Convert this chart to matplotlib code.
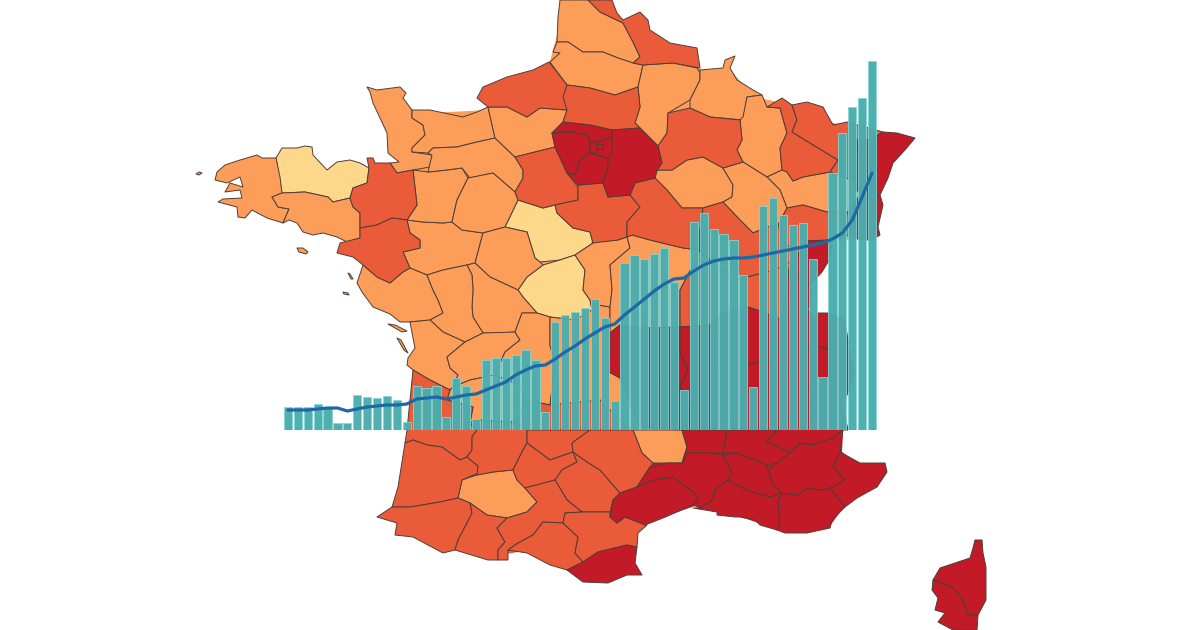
import matplotlib
matplotlib.use('Agg')
import matplotlib.pyplot as plt
from matplotlib.patches import Polygon

# couleurs de la carte
c_light = '#fed88a'
c_orange = '#fc9e5a'
c_redor = '#ea5c39'
c_dark = '#c21b27'
c_edge = '#4f3d36'

# fonds sous les departements, pour boucher les petits trous entre contours
fond_orange = [(430,113),(488,110),(490,100),(549,65),(565,5),(605,10),(625,25),(650,35),(690,55),(705,75),(730,70),(755,97),(782,103),(847,128),(865,140),(860,240),(805,241),(790,320),(682,330),(680,430),(408,430),(414,370),(410,362),(417,348),(412,324),(365,292),(362,238),(362,228),(369,183),(397,175),(414,150)]
fond_redor = [(410,445),(590,432),(633,432),(650,467),(612,515),(636,532),(630,545),(575,555),(530,550),(500,555),(458,548),(385,517),(395,510)]
fond_dark = [(612,516),(650,467),(682,430),(682,330),(780,320),(808,310),(846,345),(843,405),(843,432),(842,452),(860,465),(884,465),(885,472),(875,485),(845,505),(830,526),(785,532),(735,515),(695,506),(648,522)]

# contours des departements (pixels)
dep_light = [
    [(276,158),(282,148),(297,148),(305,146),(312,147),(313,155),(327,170),(337,162),(350,160),(360,163),(369,168),(367,183),(353,188),(350,198),(333,202),(328,197),(305,192),(282,193)],
    [(505,227),(518,200),(543,208),(555,205),(557,213),(573,228),(590,232),(593,243),(575,255),(560,260),(540,262),(535,258),(527,232)],
    [(527,277),(543,265),(560,260),(575,255),(585,270),(583,290),(590,300),(592,310),(575,320),(550,317),(537,313),(523,297),(518,290)],
]

dep_orange = [
    [(215,180),(217,172),(225,165),(240,160),(257,155),(262,158),(276,158),(280,177),(282,193),(272,197),(278,207),(289,209),(283,223),(267,218),(252,210),(245,218),(238,217),(237,207),(218,202),(223,199),(242,198),(240,190),(225,192),(230,183),(243,187),(240,177),(227,183)],
    [(272,197),(282,193),(305,192),(328,197),(333,202),(350,198),(353,207),(360,213),(360,228),(360,238),(347,242),(337,237),(323,233),(313,235),(303,232),(297,223),(289,220),(283,223),(289,209),(278,207)],
    [(403,252),(420,248),(420,240),(410,233),(407,220),(423,222),(443,223),(452,222),(462,230),(483,233),(475,263),(467,265),(443,270),(427,275),(410,268)],
    [(357,283),(363,265),(377,277),(390,283),(403,272),(410,268),(427,275),(433,290),(438,300),(443,313),(430,320),(410,322),(400,322),(390,314),(373,307),(362,292)],
    [(413,170),(428,172),(447,170),(462,168),(468,178),(457,200),(452,222),(443,223),(423,222),(407,220),(417,205)],
    [(367,87),(377,90),(400,87),(406,93),(403,98),(412,110),(412,118),(423,125),(425,135),(412,148),(412,152),(432,155),(430,167),(413,170),(397,173),(390,163),(399,162),(388,153),(387,133),(373,103),(370,92)],
    [(412,110),(430,110),(463,117),(477,112),(488,107),(495,138),(477,142),(457,147),(433,148),(428,153),(412,152),(412,148),(425,135),(423,125),(412,118)],
    [(428,153),(433,148),(457,147),(477,142),(495,138),(515,157),(523,170),(523,178),(515,192),(493,173),(470,178),(462,168),(447,170),(428,172),(432,155)],
    [(468,178),(493,173),(515,192),(518,200),(505,227),(483,233),(462,230),(452,222),(457,200)],
    [(488,107),(507,107),(527,117),(540,108),(567,110),(563,122),(552,133),(555,147),(515,157),(495,138)],
    [(560,0),(588,0),(600,12),(623,23),(633,42),(640,57),(633,63),(618,58),(603,52),(583,52),(568,42),(557,42),(558,17)],
    [(550,62),(560,53),(553,52),(557,42),(568,42),(583,52),(603,52),(618,58),(633,63),(643,65),(638,87),(615,95),(590,88),(567,85)],
    [(643,65),(673,63),(697,68),(700,73),(700,80),(690,100),(668,113),(667,133),(658,146),(635,123),(640,107),(638,87)],
    [(700,70),(723,68),(725,60),(735,56),(730,68),(737,80),(753,90),(762,95),(747,97),(743,120),(710,117),(690,108),(690,100),(700,80)],
    [(747,97),(762,95),(767,107),(780,108),(787,133),(780,148),(782,170),(767,177),(743,162),(737,150),(742,140),(740,120),(743,117)],
    [(767,177),(782,170),(787,172),(793,181),(803,177),(830,172),(852,180),(860,195),(848,212),(827,212),(803,205),(787,208),(780,190)],
    [(657,170),(672,170),(687,160),(703,157),(723,168),(733,185),(732,197),(723,202),(703,208),(682,208),(667,190),(655,178)],
    [(723,168),(743,162),(767,177),(780,190),(787,208),(778,225),(767,227),(753,233),(740,220),(723,202),(732,197),(733,185)],
    [(483,233),(505,227),(527,232),(535,258),(540,262),(543,265),(527,277),(518,290),(490,277),(475,263)],
    [(467,265),(475,263),(490,277),(518,290),(523,297),(537,313),(522,313),(515,332),(500,333),(483,333),(473,317),(472,307),(473,290),(472,275)],
    [(427,275),(443,270),(467,265),(472,275),(473,290),(472,307),(473,317),(483,333),(465,342),(443,332),(430,320),(443,313),(438,300),(433,290)],
    [(410,322),(430,320),(443,332),(465,342),(447,357),(450,368),(458,375),(453,387),(450,390),(430,380),(413,370),(407,365),(408,358),(415,348),(413,338)],
    [(465,342),(483,333),(515,332),(520,340),(505,352),(495,375),(470,380),(453,387),(458,375),(450,368),(447,357)],
    [(453,387),(470,380),(495,375),(520,385),(525,400),(520,415),(513,422),(477,420),(470,423),(473,407),(447,400),(450,390)],
    [(515,332),(522,313),(537,313),(550,317),(550,345),(555,365),(550,405),(525,400),(520,385),(495,375),(505,352),(520,340)],
    [(550,317),(575,320),(592,310),(598,305),(610,307),(610,350),(609,372),(620,378),(632,410),(640,428),(633,430),(620,420),(600,400),(550,405),(555,365),(550,345)],
    [(592,242),(618,240),(627,237),(630,248),(610,265),(612,290),(610,307),(598,305),(592,310),(590,300),(583,290),(585,270),(575,255),(593,243)],
    [(627,237),(632,235),(650,240),(683,248),(700,250),(688,275),(680,290),(680,327),(643,328),(620,325),(610,333),(610,307),(612,290),(610,265),(630,248)],
    [(633,430),(682,430),(687,447),(682,463),(667,463),(653,463),(642,453)],
    [(477,475),(493,472),(513,470),(517,480),(525,488),(537,502),(527,512),(507,518),(487,515),(470,503),(458,498),(462,480)],
]

dep_redor = [
    [(369,168),(367,158),(373,158),(375,163),(390,163),(397,173),(413,170),(417,205),(407,220),(392,218),(377,225),(360,228),(360,213),(353,207),(350,198),(353,188),(367,183)],
    [(360,228),(377,225),(392,218),(407,220),(410,233),(420,240),(420,248),(403,252),(410,268),(403,272),(390,283),(377,277),(363,265),(353,257),(337,253),(340,243),(360,238)],
    [(477,98),(483,87),(507,77),(533,70),(549,62),(567,85),(567,110),(540,108),(527,117),(507,107),(488,107)],
    [(555,147),(567,173),(578,187),(578,200),(555,205),(543,208),(518,200),(515,192),(523,178),(523,170),(515,157)],
    [(588,0),(612,0),(617,13),(623,20),(640,12),(648,20),(650,30),(670,43),(697,48),(700,68),(673,63),(643,65),(633,63),(640,57),(633,42),(623,23),(600,12)],
    [(567,85),(590,88),(615,95),(638,87),(640,107),(635,123),(640,128),(612,130),(590,125),(563,122),(567,110),(563,97)],
    [(668,113),(690,108),(710,117),(740,120),(742,140),(737,150),(743,162),(723,168),(703,157),(687,160),(672,170),(657,170),(662,163),(658,146),(667,133)],
    [(767,107),(782,98),(792,105),(797,120),(792,132),(810,143),(838,160),(830,172),(803,177),(793,181),(787,172),(782,170),(780,148),(787,133),(780,108)],
    [(792,105),(807,102),(823,107),(833,125),(847,122),(883,132),(870,140),(857,140),(858,160),(852,180),(830,172),(838,160),(810,143),(792,132),(797,120)],
    [(787,208),(803,205),(827,212),(848,212),(850,235),(830,240),(805,241),(800,250),(785,245),(778,225)],
    [(578,185),(603,183),(608,197),(630,195),(640,207),(627,222),(627,237),(618,240),(593,243),(590,232),(573,228),(557,213),(555,205),(578,200)],
    [(630,195),(635,183),(655,178),(667,190),(682,208),(703,208),(700,230),(700,250),(683,248),(650,240),(632,235),(627,237),(627,222),(640,207)],
    [(703,208),(723,202),(740,220),(753,233),(767,227),(778,225),(785,245),(800,250),(795,262),(790,262),(775,270),(755,275),(735,280),(715,265),(700,250),(700,230)],
    [(680,290),(688,275),(700,250),(715,265),(735,280),(755,275),(775,270),(790,262),(785,300),(783,320),(757,310),(748,307),(730,307),(710,325),(680,327)],
    [(413,370),(430,380),(450,390),(447,400),(473,407),(470,423),(477,430),(472,437),(472,450),(467,457),(460,460),(442,447),(427,445),(413,440),(405,443),(407,430),(410,400)],
    [(405,443),(413,440),(427,445),(442,447),(460,460),(467,457),(478,466),(478,473),(462,480),(458,498),(440,502),(410,507),(392,507),(398,487)],
    [(470,423),(477,420),(513,422),(527,430),(527,443),(523,450),(513,470),(493,472),(477,475),(478,466),(467,457),(472,450),(472,437),(477,430)],
    [(520,415),(525,400),(550,405),(600,400),(620,420),(633,430),(590,430),(527,430),(513,422)],
    [(527,430),(590,430),(572,443),(573,452),(550,460),(527,443)],
    [(527,443),(550,460),(573,452),(577,462),(562,470),(555,480),(525,488),(517,480),(513,470),(523,450)],
    [(573,452),(577,462),(562,470),(555,480),(567,500),(582,512),(610,512),(613,500),(620,493),(600,470),(587,462)],
    [(573,452),(572,443),(590,430),(633,430),(642,453),(653,463),(650,467),(637,487),(620,493),(600,470),(587,462)],
    [(377,517),(392,507),(410,507),(440,502),(458,498),(470,503),(472,513),(467,523),(458,540),(455,550),(443,553),(413,537),(395,535),(397,523)],
    [(470,503),(487,515),(507,518),(497,528),(505,542),(498,550),(498,560),(488,560),(455,550),(458,540),(467,523),(472,513)],
    [(507,518),(527,512),(537,502),(525,488),(555,480),(567,500),(582,512),(565,513),(563,523),(543,522),(533,535),(518,543),(508,550),(508,560),(498,560),(498,550),(505,542),(497,528)],
    [(518,543),(533,535),(543,522),(563,523),(578,537),(575,553),(583,562),(567,570),(550,565),(527,553),(508,550)],
    [(582,512),(565,513),(563,523),(578,537),(575,553),(583,562),(598,552),(627,545),(637,547),(638,533),(647,525),(625,517),(617,523),(610,517),(610,512)],
]

dep_dark = [
    [(563,122),(590,125),(612,130),(612,137),(603,140),(590,143),(588,135),(570,132),(552,133)],
    [(552,133),(570,132),(588,135),(590,143),(590,153),(580,160),(575,175),(567,173),(555,147)],
    [(580,160),(590,153),(608,158),(608,167),(603,183),(578,185),(567,173),(575,175)],
    [(612,130),(640,128),(658,146),(662,163),(657,170),(655,178),(635,183),(630,195),(608,197),(603,183),(608,167),(608,158),(612,137)],
    [(590,143),(603,140),(612,137),(612,155),(608,158),(590,153)],
    [(590,143),(596,141),(600,148),(596,153),(590,153)],
    [(596,144),(603,144),(603,149),(597,149)],
    [(883,132),(897,133),(915,138),(905,150),(893,163),(888,178),(880,195),(860,195),(852,180),(858,160),(857,140),(870,140)],
    [(860,195),(880,195),(883,205),(878,227),(880,235),(872,240),(860,240),(850,235),(848,212)],
    [(805,241),(830,240),(832,250),(828,262),(822,272),(810,285),(800,280),(790,262),(795,262),(800,250)],
    [(790,262),(800,280),(810,285),(812,295),(808,310),(793,315),(783,320),(785,300)],
    [(610,333),(620,325),(643,328),(680,327),(680,353),(688,370),(680,387),(663,385),(640,372),(620,378),(609,372),(610,350)],
    [(620,378),(640,372),(663,385),(680,387),(690,405),(690,425),(682,430),(640,428),(632,410)],
    [(680,327),(710,325),(720,335),(720,370),(730,400),(727,430),(682,430),(690,425),(690,405),(680,387),(688,370),(680,353)],
    [(710,325),(730,307),(748,307),(757,310),(783,320),(785,340),(770,360),(720,370),(720,335)],
    [(770,360),(785,340),(783,320),(793,315),(808,310),(815,325),(812,345),(800,365),(780,375)],
    [(817,313),(830,313),(845,320),(848,340),(830,350),(812,345),(815,325)],
    [(800,365),(812,345),(830,350),(848,340),(855,375),(843,405),(820,405),(805,385)],
    [(730,400),(720,370),(770,360),(780,375),(800,365),(805,385),(820,405),(795,410),(777,430),(727,430)],
    [(777,430),(795,410),(820,405),(843,405),(848,430),(843,430),(833,438),(813,445),(800,443),(790,453),(770,443),(765,443)],
    [(682,430),(727,430),(723,453),(710,453),(688,453),(682,463),(687,447)],
    [(727,430),(777,430),(765,443),(770,443),(790,453),(777,463),(767,465),(747,457),(737,453),(723,453)],
    [(567,570),(583,562),(598,552),(627,545),(637,547),(635,563),(642,575),(627,575),(608,583),(583,582)],
    [(610,517),(613,500),(620,493),(637,487),(653,480),(673,477),(695,493),(698,500),(693,505),(663,518),(645,525),(625,517),(617,523)],
    [(650,467),(668,463),(682,463),(688,453),(710,453),(723,455),(732,473),(728,480),(715,490),(713,500),(700,508),(693,505),(698,500),(695,493),(673,477),(653,480),(637,487)],
    [(700,508),(713,500),(715,490),(728,480),(747,490),(770,497),(782,493),(778,503),(780,523),(777,530),(760,525),(755,520),(740,517),(735,517),(717,515),(717,512),(693,508)],
    [(782,493),(797,495),(808,488),(820,490),(830,488),(845,507),(832,520),(830,528),(807,533),(785,533),(777,530),(780,523),(778,503)],
    [(830,488),(845,480),(833,467),(840,452),(860,463),(885,463),(887,472),(877,487),(857,498),(845,507)],
    [(768,470),(777,463),(790,453),(800,443),(813,445),(833,438),(843,430),(840,452),(833,467),(845,480),(830,488),(820,490),(808,488),(797,495),(782,493),(773,485)],
    [(723,455),(737,453),(747,457),(767,465),(768,470),(773,485),(782,493),(770,497),(747,490),(728,480),(732,473)],
    [(973,548),(975,540),(982,540),(983,553),(986,567),(986,600),(978,615),(968,615),(962,598),(953,588),(933,580),(940,568),(958,562),(970,558)],
    [(933,580),(953,588),(962,598),(968,615),(978,615),(977,630),(953,630),(938,622),(945,613),(935,610),(938,598),(932,590)],
]

# petites iles de la cote atlantique
iles_orange = [
    [(196,174),(199,172),(202,173),(199,175)],
    [(297,248),(303,248),(308,252),(306,254),(299,252)],
    [(348,273),(350,274),(353,279),(351,279)],
    [(343,292),(348,293),(349,295),(344,294)],
    [(388,324),(395,325),(407,331),(402,332)],
    [(397,338),(401,340),(408,353),(404,350)],
]

# histogramme et courbe (hauteurs)
bar_values = [23,23,23,26,22,7,7,35,33,32,34,30,8,44,42,44,13,52,44,11,
              70,72,72,75,80,70,18,108,115,118,122,131,112,29,167,175,171,176,182,148,
              40,208,217,201,196,190,155,43,224,232,215,205,207,171,53,257,297,323,332,369]
line_values = [20,20,20,21,22,22,19,21,23,24,25,25,26,31,32,33,31,33,35,36,
               40,44,48,55,60,64,65,71,78,84,91,97,103,106,115,123,131,139,146,151,
               152,159,165,169,171,172,172,173,175,177,179,181,183,185,187,191,197,210,233,257]

W, H = 1200, 630
fig = plt.figure(figsize=(W / 100, H / 100), dpi=100)

ax = fig.add_axes([0, 0, 1, 1])
ax.set_xlim(0, W)
ax.set_ylim(H, 0)
ax.axis('off')

for fond, couleur in [(fond_orange, c_orange), (fond_redor, c_redor), (fond_dark, c_dark)]:
    ax.add_patch(Polygon(fond, closed=True, facecolor=couleur, edgecolor='none'))

for groupe, couleur in [(dep_light, c_light), (dep_orange, c_orange), (dep_redor, c_redor),
                        (dep_dark, c_dark), (iles_orange, c_orange)]:
    for contour in groupe:
        ax.add_patch(Polygon(contour, closed=True, facecolor=couleur, edgecolor=c_edge,
                             linewidth=0.7, joinstyle='round'))

# axes du graphique poses sur la carte
ax2 = fig.add_axes([283 / W, (H - 430) / H, 594 / W, 369 / H])
ax2.patch.set_alpha(0)
ax2.set_xlim(-0.5, 59.5)
ax2.set_ylim(0, 369)
ax2.axis('off')

x = range(len(bar_values))
ax2.bar(x, bar_values, width=0.82, color='#4aaeae', edgecolor='#86d6d6', linewidth=0.6, alpha=0.97)
ax2.plot(x, line_values, color='#1c69a6', linewidth=2.3, solid_joinstyle='round', solid_capstyle='round')

fig.savefig('out.png', dpi=100)
